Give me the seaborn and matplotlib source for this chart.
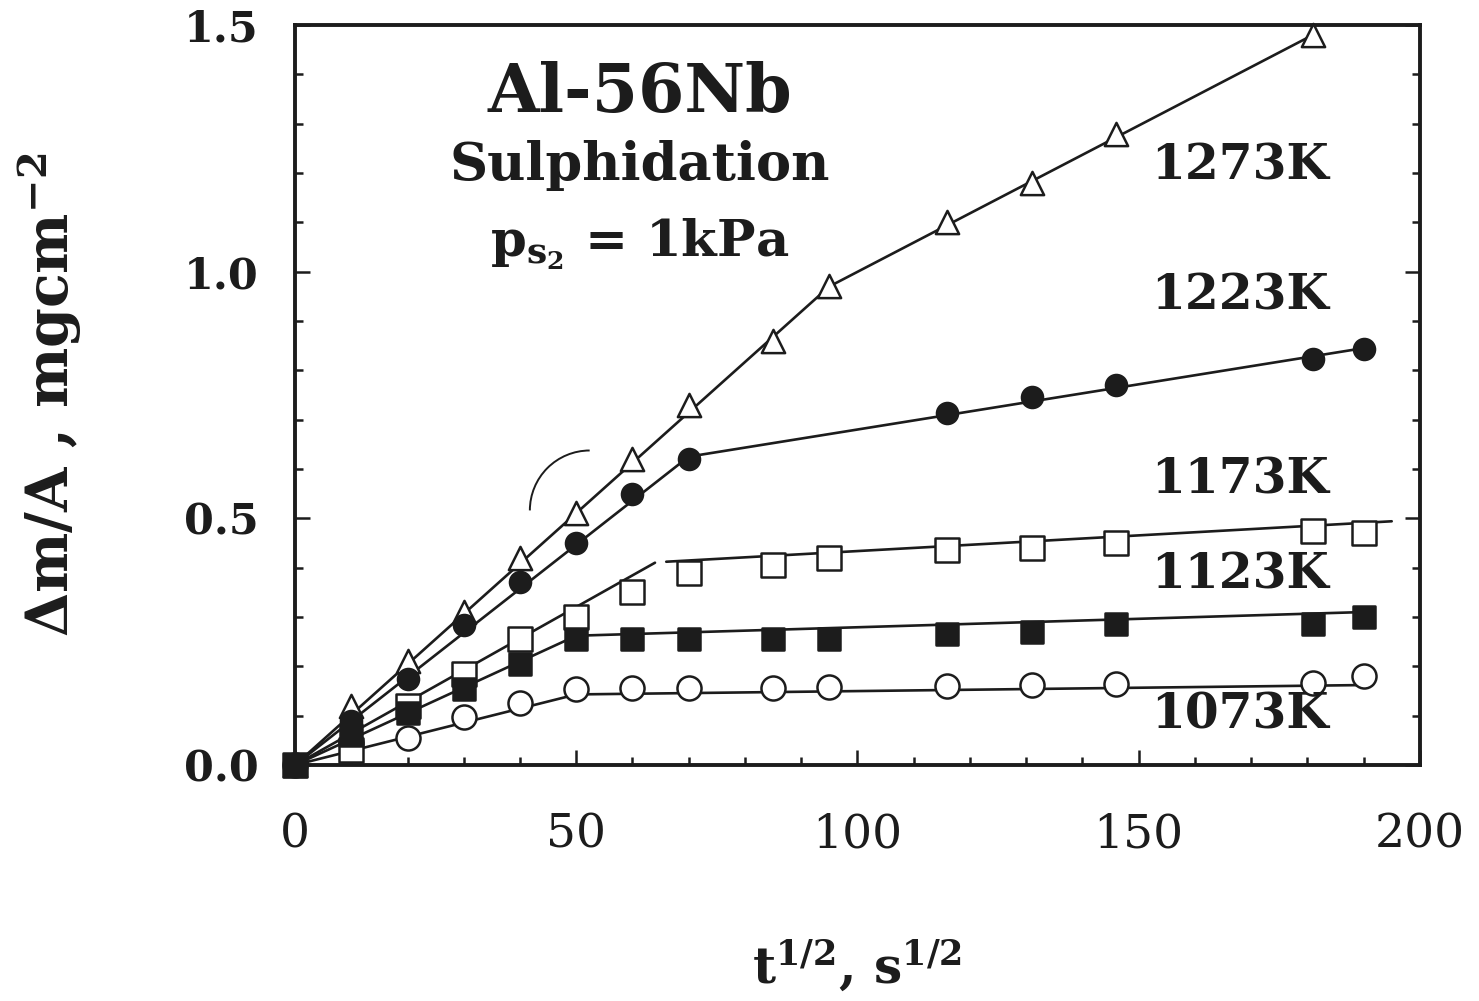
import numpy as np
import pandas as pd
import matplotlib
matplotlib.use("Agg")
import matplotlib.pyplot as plt
from matplotlib.patches import Arc
from matplotlib.ticker import MultipleLocator
import seaborn as sns

# ---- measured mass gain, sqrt(time) in s^1/2, mass gain in mg cm^-2 ----
t_all = [0, 10, 20, 30, 40, 50, 60, 70, 85, 95, 116, 131, 146, 181, 190]

t_1273 = [0, 10, 20, 30, 40, 50, 60, 70, 85, 95, 116, 131, 146, 181]
m_1273 = [0, 0.12, 0.21, 0.31, 0.42, 0.51, 0.62, 0.73, 0.86, 0.97, 1.10, 1.18, 1.28, 1.48]

t_1223 = [0, 10, 20, 30, 40, 50, 60, 70, 116, 131, 146, 181, 190]
m_1223 = [0, 0.09, 0.175, 0.283, 0.37, 0.45, 0.55, 0.62, 0.713, 0.745, 0.77, 0.822, 0.843]

m_1173 = [0, 0.03, 0.12, 0.185, 0.255, 0.30, 0.35, 0.39, 0.405, 0.42, 0.435, 0.44, 0.45, 0.475, 0.47]
m_1123 = [0, 0.06, 0.105, 0.155, 0.205, 0.255, 0.255, 0.255, 0.255, 0.255, 0.265, 0.27, 0.285, 0.285, 0.30]
m_1073 = [0, 0.045, 0.055, 0.097, 0.125, 0.155, 0.157, 0.157, 0.157, 0.158, 0.16, 0.162, 0.164, 0.166, 0.18]

# ---- fitted rate-law lines (knots) ----
fit_1273_t = [0, 95, 181]
fit_1273_m = [0, 0.97, 1.48]
fit_1223_t = [0, 70, 190]
fit_1223_m = [0, 0.625, 0.845]
fit_1173a_t = [0, 64]
fit_1173a_m = [0, 0.41]
fit_1173b_t = [66, 195]
fit_1173b_m = [0.412, 0.494]
fit_1123_t = [0, 50, 190]
fit_1123_m = [0, 0.262, 0.31]
fit_1073_t = [0, 50, 190]
fit_1073_m = [0, 0.143, 0.162]

temp_labels = ["1273K", "1223K", "1173K", "1123K", "1073K"]
temp_label_x = [168, 168, 168, 168, 168]
temp_label_y = [1.215, 0.951, 0.577, 0.385, 0.101]

INK = "#1c1c1c"

sns.set_theme(style="ticks")
plt.rcParams.update({
    "font.family": ["DejaVu Serif"],
    "mathtext.fontset": "custom",
    "mathtext.rm": "DejaVu Serif:bold",
    "mathtext.bf": "DejaVu Serif:bold",
    "mathtext.it": "DejaVu Serif:bold",
    "axes.edgecolor": INK,
    "xtick.color": INK,
    "ytick.color": INK,
})

fig = plt.figure(figsize=(14.79, 10.01), dpi=100)
ax = fig.add_axes([0.1995, 0.2358, 0.7605, 0.7392])

# fitted lines
for ft, fm in [(fit_1273_t, fit_1273_m), (fit_1223_t, fit_1223_m),
               (fit_1173a_t, fit_1173a_m), (fit_1173b_t, fit_1173b_m),
               (fit_1123_t, fit_1123_m), (fit_1073_t, fit_1073_m)]:
    sns.lineplot(x=ft, y=fm, ax=ax, color=INK, linewidth=1.9,
                 estimator=None, sort=False, legend=False, zorder=2)

series = [
    ("1073 K", t_all, m_1073, "o", "white", 300),
    ("1173 K", t_all, m_1173, "s", "white", 290),
    ("1273 K", t_1273, m_1273, "^", "white", 280),
    ("1223 K", t_1223, m_1223, "o", INK, 230),
    ("1123 K", t_all, m_1123, "s", INK, 270),
]
for name, tt, mm, mk, face, size in series:
    df = pd.DataFrame({"t": tt, "m": mm})
    sns.scatterplot(data=df, x="t", y="m", ax=ax, marker=mk, s=size,
                    facecolor=face, edgecolor=INK, linewidth=1.8,
                    legend=False, zorder=3, clip_on=False)

# small hand-drawn arc near the upper curves
ax.add_patch(Arc((52.4, 0.516), 21.3, 0.243, theta1=97, theta2=180,
                 color=INK, linewidth=1.4))

ax.set_xlim(0, 200)
ax.set_ylim(0, 1.5)
ax.xaxis.set_major_locator(MultipleLocator(50))
ax.xaxis.set_minor_locator(MultipleLocator(10))
ax.yaxis.set_major_locator(MultipleLocator(0.5))
ax.yaxis.set_minor_locator(MultipleLocator(0.1))
ax.set_xticks([0, 50, 100, 150, 200])
ax.set_yticks([0, 0.5, 1.0, 1.5])
ax.set_yticklabels(["0.0", "0.5", "1.0", "1.5"])

ax.tick_params(axis="both", which="both", direction="in",
               top=False, right=True, width=1.8)
ax.tick_params(axis="both", which="major", length=11)
ax.tick_params(axis="both", which="minor", length=6)
ax.tick_params(axis="x", which="major", pad=34)
ax.tick_params(axis="y", which="major", pad=26)
for lab in ax.get_xticklabels():
    lab.set_fontfamily("DejaVu Serif")
    lab.set_fontweight("normal")
    lab.set_fontsize(34)
for lab in ax.get_yticklabels():
    lab.set_fontfamily("DejaVu Serif")
    lab.set_fontweight("bold")
    lab.set_fontsize(31)

for sp in ax.spines.values():
    sp.set_linewidth(2.8)
    sp.set_color(INK)

ax.set_xlabel(r"t$^{1/2}$, s$^{1/2}$", fontsize=36, fontweight="bold",
              labelpad=58, color=INK)
ax.set_ylabel(r"$\Delta$m/A , mgcm$^{-2}$", fontsize=41, fontweight="bold",
              labelpad=72, color=INK)

# temperature labels
for lbl, lx, ly in zip(temp_labels, temp_label_x, temp_label_y):
    ax.text(lx, ly, lbl, fontsize=35, fontweight="bold",
            fontfamily="DejaVu Serif", ha="center", va="center", color=INK)

# alloy / conditions block
ax.text(61.3, 1.362, "Al-56Nb", fontsize=48, fontweight="bold",
        ha="center", va="center", color=INK)
ax.text(61.3, 1.215, "Sulphidation", fontsize=38, fontweight="bold",
        ha="center", va="center", color=INK)
ax.text(61.3, 1.055, r"p$_{s_2}$ = 1kPa", fontsize=37, fontweight="bold",
        ha="center", va="center", color=INK)

fig.savefig("out.png", dpi=100, facecolor="white")
